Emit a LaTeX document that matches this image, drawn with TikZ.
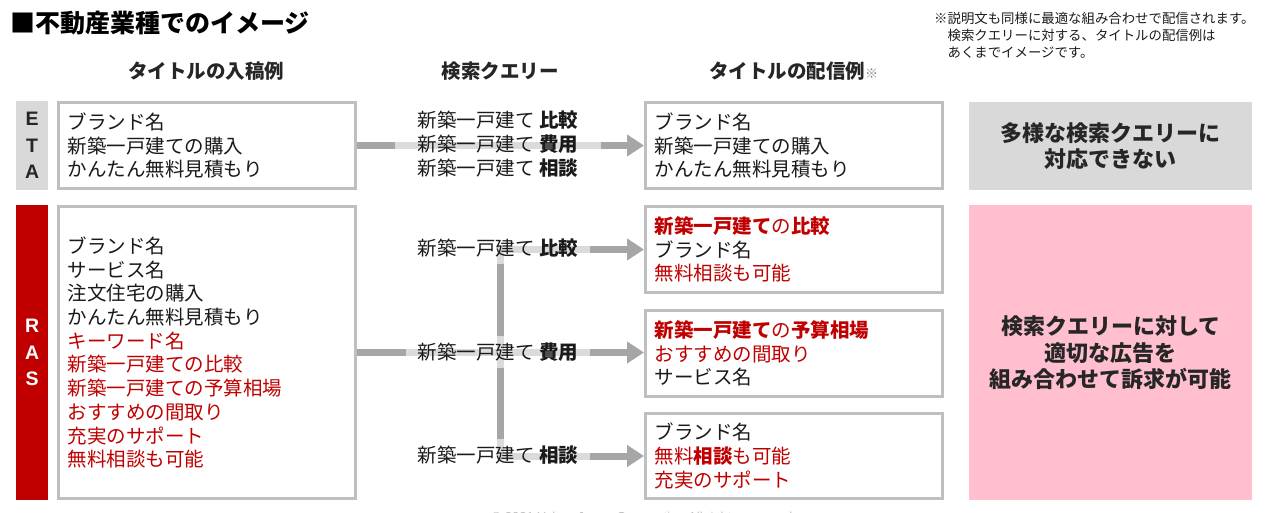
\documentclass[tikz,border=0pt]{standalone}
\usepackage{fontspec}
\setmainfont{Noto Sans CJK JP}
\newfontfamily\lat{Liberation Sans}
\usetikzlibrary{arrows.meta,backgrounds}
\definecolor{frame}{HTML}{BFBFBF}
\definecolor{conn}{HTML}{A6A6A6}
\definecolor{lbl}{HTML}{D9D9D9}
\definecolor{rd}{HTML}{C00000}
\definecolor{pk}{HTML}{FFBFCF}
\definecolor{tx}{HTML}{1A1A1A}
\definecolor{hd}{HTML}{262626}
\newcommand{\rb}[1]{\textcolor{rd}{\textbf{#1}}}
\newcommand{\rn}[1]{\textcolor{rd}{#1}}
\begin{document}
\begin{tikzpicture}[x=1pt,y=-1pt,
  every node/.style={text=tx},
  box/.style={draw=frame, line width=3pt, fill=white, minimum width=297pt,
    inner xsep=9pt, text width=279pt, align=left, anchor=north west,
    font=\fontsize{19.5}{23.7}\selectfont},
  tag/.style={minimum width=32pt, inner sep=0pt, anchor=north west, align=center,
    font=\lat\bfseries\fontsize{19.5}{26.5}\selectfont},
  result/.style={minimum width=283pt, inner sep=0pt, anchor=north west, align=center,
    text=hd, font=\bfseries\fontsize{22}{26.5}\selectfont},
  query/.style={fill=white, fill opacity=0.6, text opacity=1, inner ysep=7pt,
    align=left, font=\fontsize{19.5}{23.7}\selectfont},
  head/.style={text=hd, font=\bfseries\fontsize{19.5}{23}\selectfont},
  conn/.style={draw=conn, line width=7pt},
  tip/.style={-{Triangle[length=17pt,width=21pt]}},
]
\path[use as bounding box, clip] (0,0) rectangle (1266,513);

% title and notes
\node[anchor=west, inner sep=0pt, text=black, font=\bfseries\fontsize{25}{28}\selectfont] (title) at (10,23) {■不動産業種でのイメージ};
\node[anchor=north west, inner sep=0pt, align=left, font=\fontsize{13.4}{16.8}\selectfont] (note) at (934,12)
  {※説明文も同様に最適な組み合わせで配信されます。\\\hspace{1em}検索クエリーに対する、タイトルの配信例は\\\hspace{1em}あくまでイメージです。};

% column headers
\node[head] (h1) at (206,71) {タイトルの入稿例};
\node[head] (h2) at (500,71) {検索クエリー};
\node[head, anchor=west, inner xsep=0pt] (h3) at (709,71) {タイトルの配信例\textcolor{gray}{\mdseries\fontsize{13}{13}\selectfont ※}};

% row tags
\node[tag, fill=lbl, minimum height=89pt, text=hd] (etaTag) at (16,101) {E\\T\\A};
\node[tag, fill=rd, minimum height=295pt, text=white] (rasTag) at (16,205) {R\\A\\S};

% ETA row
\node[box, minimum height=86pt] (etaL) at (57,101)
  {ブランド名\\新築一戸建ての購入\\かんたん無料見積もり};
\node[box, minimum height=86pt] (etaR) at (644,101)
  {ブランド名\\新築一戸建ての購入\\かんたん無料見積もり};
\node[result, fill=lbl, minimum height=88pt] (etaRes) at (969,102)
  {多様な検索クエリーに\\対応できない};

% RAS row
\node[box, minimum height=292pt] (rasL) at (57,205)
  {ブランド名\\サービス名\\注文住宅の購入\\かんたん無料見積もり\\\rn{キーワード名}\\\rn{新築一戸建ての比較}\\\rn{新築一戸建ての予算相場}\\\rn{おすすめの間取り}\\\rn{充実のサポート}\\\rn{無料相談も可能}};
\node[box, minimum height=86pt] (r1) at (644,205)
  {\rb{新築一戸建て}\rn{の}\rb{比較}\\ブランド名\\\rn{無料相談も可能}};
\node[box, minimum height=86pt] (r2) at (644,309)
  {\rb{新築一戸建て}\rn{の}\rb{予算相場}\\\rn{おすすめの間取り}\\サービス名};
\node[box, minimum height=85pt] (r3) at (644,412)
  {ブランド名\\\rn{無料}\rb{相談}\rn{も可能}\\\rn{充実のサポート}};
\node[result, fill=pk, minimum height=295pt] (rasRes) at (969,205)
  {検索クエリーに対して\\適切な広告を\\組み合わせて訴求が可能};

% queries
\node[query, inner xsep=23pt] (qEta) at (498,144)
  {新築一戸建て \textbf{比較}\\新築一戸建て \textbf{費用}\\新築一戸建て \textbf{相談}};
\node[query, inner xsep=12pt] (q1) at (498,248) {新築一戸建て \textbf{比較}};
\node[query, inner xsep=12pt] (q2) at (498,352) {新築一戸建て \textbf{費用}};
\node[query, inner xsep=12pt] (q3) at (498,455) {新築一戸建て \textbf{相談}};

\coordinate (jx) at (500,0);

\begin{scope}[on background layer]
  \draw[conn, tip] (etaL.east) -- (etaR.west);
  \draw[conn, tip] (rasL.east) -- (rasL.east -| r2.west);
  \draw[conn, {Triangle[length=17pt,width=21pt]}-{Triangle[length=17pt,width=21pt]}, line join=miter]
    (r1.west) -- (r1.west -| jx) -- (r3.west -| jx) -- (r3.west);
\end{scope}

% footer
\node[text=frame, font=\lat\fontsize{13}{15}\selectfont] (foot) at (642,518) {© 2021 Yahoo Japan Corporation All rights reserved};
\end{tikzpicture}
\end{document}
